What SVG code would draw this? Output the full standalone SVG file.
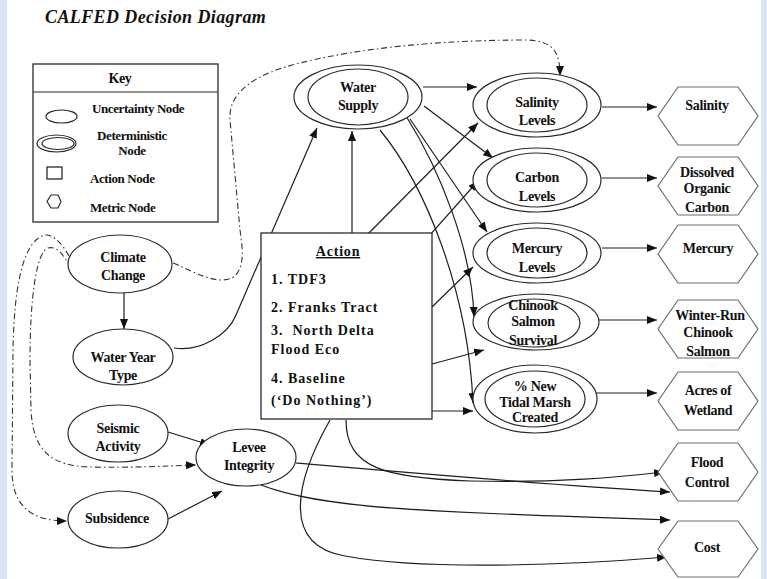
<svg xmlns="http://www.w3.org/2000/svg" width="767" height="579" viewBox="0 0 767 579">
<style>
.bg{fill:#ffffff}
.edge{fill:#d9e5f6}
.el{fill:#ffffff;stroke:#2a2a2a;stroke-width:1.2}
.hx{fill:#ffffff;stroke:#6e6e6e;stroke-width:1.2}
.bx{fill:#ffffff;stroke:#2a2a2a;stroke-width:1.3}
.c{fill:none;stroke:#1e1e1e;stroke-width:1.2}
.d{fill:none;stroke:#333;stroke-width:1.1;stroke-dasharray:6 3 1.5 3}
.t{font-family:"Liberation Serif","Times New Roman",serif;font-weight:bold;font-size:14px;text-anchor:middle;fill:#111;letter-spacing:-0.3px}
.k{font-family:"Liberation Serif","Times New Roman",serif;font-weight:bold;font-size:13px;fill:#111;letter-spacing:-0.4px}
.a{font-family:"Liberation Serif","Times New Roman",serif;font-weight:bold;font-size:14px;fill:#111;letter-spacing:1px;white-space:pre}
.ttl{font-family:"Liberation Serif","Times New Roman",serif;font-weight:bold;font-style:italic;font-size:18px;fill:#111;letter-spacing:0.4px}
</style>
<defs>
<marker id="ah" viewBox="0 0 10 8" refX="10" refY="4" markerWidth="10" markerHeight="8" orient="auto" markerUnits="userSpaceOnUse"><path d="M0,0 L10,4 L0,8 z" fill="#111"/></marker>
</defs>
<rect class="bg" x="0" y="0" width="767" height="579"/>
<rect class="edge" x="0" y="0" width="7" height="579"/>
<rect class="edge" x="761" y="0" width="6" height="579"/>

<text class="ttl" x="45" y="23">CALFED Decision Diagram</text>

<g id="key">
<rect class="bx" x="33" y="64" width="185" height="158"/>
<line x1="33" y1="92" x2="218" y2="92" stroke="#2a2a2a" stroke-width="1.2"/>
<text class="k" x="120" y="83" text-anchor="middle" style="font-size:14px">Key</text>
<ellipse class="el" cx="61.5" cy="116.5" rx="15.5" ry="6.5"/>
<text class="k" x="92" y="113">Uncertainty Node</text>
<ellipse class="el" cx="56.5" cy="143.5" rx="19.5" ry="8.5"/>
<ellipse class="el" cx="58" cy="143.5" rx="16" ry="6"/>
<text class="k" x="132" y="140" text-anchor="middle">Deterministic</text>
<text class="k" x="132" y="155" text-anchor="middle">Node</text>
<rect class="bx" x="47" y="167" width="15" height="12"/>
<text class="k" x="90" y="183">Action Node</text>
<polygon class="el" points="47,201.5 51,195 58,195 61,201.5 58,208 51,208"/>
<text class="k" x="90" y="212">Metric Node</text>
</g>

<g id="connectors">
<path class="d" d="M173 263 C195 272,215 285,232 278 C245 270,243 250,240 230 L230 120 C228 95,250 75,300 63 C360 48,440 40,527 40 C552 41,560 50,560 76" marker-end="url(#ah)"/>
<path class="d" d="M69 256 C60 240,50 232,42 236 C22 245,14 290,13 350 L12 470 C12 505,30 521,67 521" marker-end="url(#ah)"/>
<path class="d" d="M71 268 C62 252,56 246,48 248 C36 252,30 300,30 360 L31 410 C33 450,50 466,90 467 C130 468,165 466,196 465" marker-end="url(#ah)"/>

<path class="c" d="M124 293 L124 329" marker-end="url(#ah)"/>
<path class="c" d="M174 348 C200 352,228 335,236 315 L317 128" marker-end="url(#ah)"/>
<path class="c" d="M168 432 L210 445" marker-end="url(#ah)"/>
<path class="c" d="M168 519 L222 491" marker-end="url(#ah)"/>

<path class="c" d="M423 87 L477 87" marker-end="url(#ah)"/>
<path class="c" d="M424 106 L493 158" marker-end="url(#ah)"/>
<path class="c" d="M410 119 L487 232" marker-end="url(#ah)"/>
<path class="c" d="M406 116 C440 170,472 250,474 317" marker-end="url(#ah)"/>
<path class="c" d="M380 130 C425 185,468 290,473 403" marker-end="url(#ah)"/>

<path class="c" d="M352 243 L352 131" marker-end="url(#ah)"/>
<path class="c" d="M360 242 L478 123" marker-end="url(#ah)"/>
<path class="c" d="M388 282 L478 181" marker-end="url(#ah)"/>
<path class="c" d="M432 307 L473 267" marker-end="url(#ah)"/>
<path class="c" d="M432 364 L484 350" marker-end="url(#ah)"/>
<path class="c" d="M432 411 L473 411" marker-end="url(#ah)"/>
<path class="c" d="M346 420 C346 468,385 478,470 481 C560 483,620 477,664 472" marker-end="url(#ah)"/>
<path class="c" d="M330 420 C296 480,280 545,345 556 C420 570,560 566,667 557" marker-end="url(#ah)"/>

<path class="c" d="M296 463 C400 472,550 485,670 492" marker-end="url(#ah)"/>
<path class="c" d="M261 485 C320 508,420 512,670 520" marker-end="url(#ah)"/>

<path class="c" d="M602 107 L657 107" marker-end="url(#ah)"/>
<path class="c" d="M602 178 L657 178" marker-end="url(#ah)"/>
<path class="c" d="M602 248 L657 248" marker-end="url(#ah)"/>
<path class="c" d="M598 320 L657 320" marker-end="url(#ah)"/>
<path class="c" d="M596 393 L657 393" marker-end="url(#ah)"/>
</g>

<g id="climate-change">
<ellipse class="el" cx="120" cy="264" rx="52" ry="29"/>
<text class="t" x="123" y="262">Climate</text>
<text class="t" x="123" y="280">Change</text>
</g>
<g id="water-year-type">
<ellipse class="el" cx="123" cy="357" rx="50" ry="28"/>
<text class="t" x="123" y="362">Water Year</text>
<text class="t" x="123" y="380">Type</text>
</g>
<g id="seismic-activity">
<ellipse class="el" cx="118" cy="433.5" rx="50" ry="28.5"/>
<text class="t" x="118" y="433">Seismic</text>
<text class="t" x="118" y="451">Activity</text>
</g>
<g id="levee-integrity">
<ellipse class="el" cx="246" cy="457.5" rx="50" ry="28.5"/>
<text class="t" x="249" y="452">Levee</text>
<text class="t" x="249" y="470">Integrity</text>
</g>
<g id="subsidence">
<ellipse class="el" cx="118" cy="519.5" rx="50" ry="28.5"/>
<text class="t" x="117" y="523">Subsidence</text>
</g>

<g id="action">
<rect class="bx" x="261" y="233" width="171" height="186"/>
<text class="a" x="338" y="256" text-anchor="middle" style="text-decoration:underline;letter-spacing:0.8px">Action</text>
<text class="a" x="271" y="284">1. TDF3</text>
<text class="a" x="271" y="312">2. Franks Tract</text>
<text class="a" x="271" y="335">3.  North Delta</text>
<text class="a" x="271" y="354">Flood Eco</text>
<text class="a" x="271" y="383">4. Baseline</text>
<text class="a" x="271" y="405">(‘Do Nothing’)</text>
</g>

<g id="water-supply">
<ellipse class="el" cx="358" cy="97" rx="64" ry="32"/>
<ellipse class="el" cx="358" cy="97" rx="50" ry="28"/>
<text class="t" x="358" y="92">Water</text>
<text class="t" x="358" y="110">Supply</text>
</g>
<g id="salinity-levels">
<ellipse class="el" cx="537" cy="105" rx="64" ry="32"/>
<ellipse class="el" cx="537" cy="105" rx="50" ry="27"/>
<text class="t" x="537" y="107">Salinity</text>
<text class="t" x="537" y="125">Levels</text>
</g>
<g id="carbon-levels">
<ellipse class="el" cx="537" cy="180" rx="64" ry="32"/>
<ellipse class="el" cx="537" cy="180" rx="50" ry="27"/>
<text class="t" x="537" y="182">Carbon</text>
<text class="t" x="537" y="201">Levels</text>
</g>
<g id="mercury-levels">
<ellipse class="el" cx="537" cy="253" rx="64" ry="30"/>
<ellipse class="el" cx="537" cy="253" rx="50" ry="25"/>
<text class="t" x="537" y="253">Mercury</text>
<text class="t" x="537" y="272">Levels</text>
</g>
<g id="chinook-salmon-survival">
<ellipse class="el" cx="536" cy="322" rx="63" ry="28"/>
<ellipse class="el" cx="534" cy="323" rx="46" ry="24"/>
<text class="t" x="533" y="310">Chinook</text>
<text class="t" x="533" y="326">Salmon</text>
<text class="t" x="533" y="345">Survival</text>
</g>
<g id="tidal-marsh">
<ellipse class="el" cx="535" cy="399" rx="62" ry="34"/>
<ellipse class="el" cx="535" cy="399" rx="50" ry="28"/>
<text class="t" x="535" y="391">% New</text>
<text class="t" x="535" y="407">Tidal Marsh</text>
<text class="t" x="535" y="422">Created</text>
</g>

<g id="m-salinity">
<polygon class="hx" points="658,116 678,87 738,87 758,116 738,145 678,145"/>
<text class="t" x="707" y="110">Salinity</text>
</g>
<g id="m-doc">
<polygon class="hx" points="658,186 678,157 738,157 758,186 738,215 678,215"/>
<text class="t" x="707" y="177">Dissolved</text>
<text class="t" x="707" y="193">Organic</text>
<text class="t" x="707" y="212">Carbon</text>
</g>
<g id="m-mercury">
<polygon class="hx" points="658,254 678,225 738,225 758,254 738,283 678,283"/>
<text class="t" x="708" y="253">Mercury</text>
</g>
<g id="m-winter-run">
<polygon class="hx" points="658,329 678,300 738,300 758,329 738,358 678,358"/>
<text class="t" x="710" y="320">Winter-Run</text>
<text class="t" x="708" y="337">Chinook</text>
<text class="t" x="708" y="356">Salmon</text>
</g>
<g id="m-wetland">
<polygon class="hx" points="658,401 678,372 738,372 758,401 738,430 678,430"/>
<text class="t" x="708" y="395">Acres of</text>
<text class="t" x="708" y="415">Wetland</text>
</g>
<g id="m-flood">
<polygon class="hx" points="658,472 678,443 738,443 758,472 738,501 678,501"/>
<text class="t" x="707" y="467">Flood</text>
<text class="t" x="707" y="487">Control</text>
</g>
<g id="m-cost">
<polygon class="hx" points="658,549 678,521 738,521 758,549 738,577 678,577"/>
<text class="t" x="707" y="552">Cost</text>
</g>
</svg>
